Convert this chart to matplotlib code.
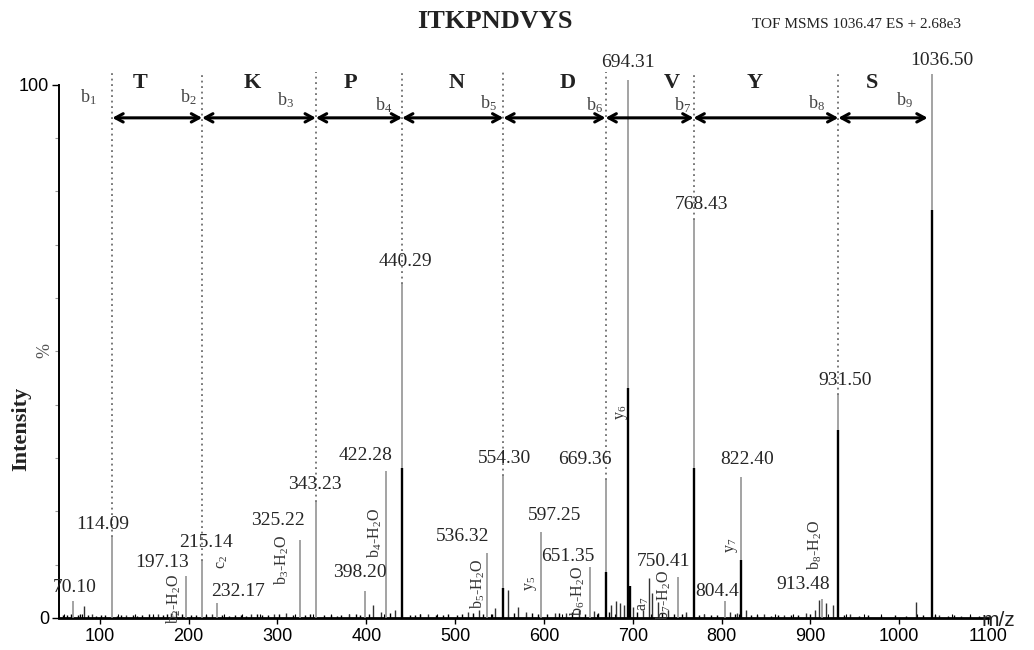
import matplotlib
matplotlib.use("Agg")
import matplotlib.pyplot as plt

plt.rcParams['font.family'] = ['Liberation Serif', 'DejaVu Serif']
plt.rcParams['mathtext.fontset'] = 'custom'
plt.rcParams['mathtext.rm'] = 'Liberation Serif'
plt.rcParams['mathtext.it'] = 'Liberation Serif:italic'
plt.rcParams['mathtext.bf'] = 'Liberation Serif:bold'

# ---------------- data ----------------
sequence = "ITKPNDVYS"
header = "TOF MSMS 1036.47 ES + 2.68e3"

# labelled peaks (m/z, relative intensity %)
peak_mz = [70.10, 114.09, 197.13, 215.14, 232.17, 325.22, 343.23, 398.20,
           422.28, 440.29, 536.32, 554.30, 597.25, 651.35, 669.36, 694.31,
           750.41, 768.43, 804.4, 822.40, 913.48, 931.50, 1036.50]
peak_int = [3.2, 15.2, 7.9, 10.7, 2.8, 14.6, 21.8, 5.1,
            27.6, 62.7, 12.2, 26.6, 16.1, 9.6, 25.9, 100.9,
            7.7, 74.7, 3.2, 26.5, 3.6, 41.8, 102.0]
peak_text = ["70.10", "114.09", "197.13", "215.14", "232.17", "325.22", "343.23",
             "398.20", "422.28", "440.29", "536.32", "554.30", "597.25", "651.35",
             "669.36", "694.31", "750.41", "768.43", "804.4", "822.40", "913.48",
             "931.50", "1036.50"]

# darker overlaid trace
dark_mz = [440.29, 554.30, 669.36, 694.31, 697.0, 768.43, 822.40, 931.50, 1036.50]
dark_int = [28.1, 5.6, 8.6, 43.2, 6.0, 28.1, 10.9, 35.3, 76.5]

# unlabelled minor peaks
minor_mz = [82, 91, 130, 165, 180, 186, 226, 270, 296, 310, 380, 408, 416, 432,
            470, 515, 527, 545, 560, 571, 580, 612, 625, 640, 656, 676, 681, 686,
            690, 700, 712, 718, 722, 728, 740, 760, 780, 810, 817, 828, 848, 870,
            895, 905, 910, 918, 925, 945, 1018.5, 1045, 1070]
minor_int = [2.3, 0.8, 0.6, 0.8, 1.0, 1.4, 0.8, 0.7, 0.8, 0.9, 0.7, 2.4, 1.2, 1.5,
             0.8, 1.2, 1.5, 1.8, 5.3, 2.0, 1.2, 0.9, 1.0, 1.5, 1.3, 2.5, 3.2, 2.8,
             2.4, 2.0, 1.5, 7.5, 4.7, 3.0, 1.5, 1.2, 0.8, 1.2, 1.0, 1.5, 0.8, 0.6,
             1.0, 1.5, 3.4, 2.8, 2.5, 0.7, 3.0, 0.5, 0.4]

# baseline noise
noise_mz = [58, 63, 67, 75, 78, 87, 96, 101, 106, 119, 124, 137, 142, 148, 155,
            160, 171, 176, 192, 203, 208, 220, 238, 245, 252, 259, 264, 277, 283,
            289, 302, 318, 331, 337, 352, 360, 367, 372, 388, 393, 403, 427, 449,
            455, 461, 478, 486, 492, 502, 508, 520, 531, 541, 566, 587, 593, 604,
            617, 632, 646, 661, 673, 705, 733, 746, 755, 775, 788, 795, 815, 833,
            840, 856, 863, 878, 886, 900, 938, 955, 965, 980, 995, 1008, 1027,
            1040, 1055, 1062, 1080, 1090]
noise_int = [0.6, 0.5, 0.7, 0.5, 0.8, 0.6, 0.4, 0.5, 0.6, 0.4, 0.5, 0.6, 0.4, 0.5,
             0.7, 0.4, 0.6, 0.8, 0.7, 0.5, 0.6, 0.5, 0.6, 0.4, 0.5, 0.6, 0.4, 0.7,
             0.5, 0.6, 0.8, 0.6, 0.5, 0.7, 0.6, 0.5, 0.4, 0.6, 0.7, 0.5, 0.8, 0.9,
             0.6, 0.5, 0.7, 0.6, 0.5, 0.8, 0.6, 0.7, 0.9, 0.8, 0.7, 1.0, 0.9, 0.8,
             0.7, 0.9, 1.1, 0.8, 1.0, 1.2, 1.1, 0.9, 0.8, 0.7, 0.6, 0.5, 0.6, 0.7,
             0.5, 0.6, 0.4, 0.5, 0.6, 0.5, 0.7, 0.6, 0.4, 0.5, 0.4, 0.5, 0.4, 0.6,
             0.5, 0.4, 0.5, 0.4, 0.3]

# b-ion ladder (residue boundaries) and residues
b_ions = [114.09, 215.14, 343.23, 440.29, 554.30, 669.36, 768.43, 931.50, 1032.0]
b_names = ["b$_1$", "b$_2$", "b$_3$", "b$_4$", "b$_5$", "b$_6$", "b$_7$", "b$_8$", "b$_9$"]
residues = ["T", "K", "P", "N", "D", "V", "Y", "S"]

# fragment annotations (rotated)
frag_text = ["b$_2$-H$_2$O", "c$_2$", "b$_3$-H$_2$O", "b$_4$-H$_2$O", "b$_5$-H$_2$O",
             "y$_5$", "b$_6$-H$_2$O", "y$_6$", "a$_7$", "b$_7$-H$_2$O", "y$_7$",
             "b$_8$-H$_2$O"]

# ---------------- layout ----------------
# label offsets from peak top (pixels: dx right, dy down)
lab_dx = [1, -10, -24, 4, 21, -22, -1, -5, -21, 3, -25, 1, 13, -22, -21, 0,
          -14, 8, -8, 6, -19, 7, 10]
lab_dy = [-13, -12, -13, -18, -12, -20, -17, -18, -15, -22, -16, -18, -17, -10,
          -20, -17, -15, -15, -9, -17, -14, -15, -14]
frag_x = [183.8, 237.8, 305.3, 409.9, 525.8, 585.4, 638.3, 687.8, 711.4, 735.0,
          811.5, 904.8]
frag_y = [3.6, 10.5, 10.9, 15.9, 6.4, 6.4, 5.0, 38.5, 2.6, 4.3, 13.7, 13.7]
res_x = [145.6, 271.5, 381.8, 502.1, 627.0, 744.0, 837.3, 969.0]
bname_x = [87.1, 199.5, 308.7, 420.0, 537.0, 657.4, 756.4, 907.1, 1006.1]
bname_y = [97.7, 97.7, 97.2, 96.2, 96.6, 96.2, 96.2, 96.6, 97.2]
arrow_y = 93.8
dotted_top = 102.4

W, H = 1034, 650
fig = plt.figure(figsize=(W / 100, H / 100), dpi=100)
ax = fig.add_axes([59 / W, 32 / H, 929 / W, 578 / H])
ax.set_xlim(54, 1100)
ax.set_ylim(0, 108.4)

# spectrum
ax.vlines(noise_mz, 0, noise_int, color='black', lw=1.0, zorder=2)
ax.vlines(minor_mz, 0, minor_int, color='#333333', lw=1.0, zorder=2)
ax.vlines(peak_mz, 0, peak_int, color='#8a8a8a', lw=1.1, zorder=3)
ax.vlines(dark_mz, 0, dark_int, color='black', lw=1.7, zorder=4)

# dotted b-ion guide lines
b_heights = [peak_int[peak_mz.index(b)] if b in peak_mz else 0 for b in b_ions[:-1]]
ax.vlines(b_ions[:-1], b_heights, dotted_top, color='#555555', lw=1.1,
          linestyles=(0, (1.2, 2.4)), zorder=1)

# arrows between b ions
for i in range(len(b_ions) - 1):
    ax.annotate('', xy=(b_ions[i + 1], arrow_y), xytext=(b_ions[i], arrow_y),
                arrowprops=dict(arrowstyle='<->,head_length=0.55,head_width=0.3',
                                lw=2.2, color='black', shrinkA=0, shrinkB=0),
                annotation_clip=False)

for x, r in zip(res_x, residues):
    ax.text(x, 100.4, r, ha='center', va='center', fontsize=16,
            fontweight='bold', color='#222222', clip_on=False)
for x, y, n in zip(bname_x, bname_y, b_names):
    ax.text(x, y, n, ha='center', va='center', fontsize=13, color='#444444',
            clip_on=False)

# peak labels
for mz, h, t, dx, dy in zip(peak_mz, peak_int, peak_text, lab_dx, lab_dy):
    ax.annotate(t, xy=(mz, h), xytext=(dx * 0.72, -dy * 0.72),
                textcoords='offset points', ha='center', va='center',
                fontsize=14, color='#262626', annotation_clip=False)

for x, y, t in zip(frag_x, frag_y, frag_text):
    ax.text(x, y, t, rotation=90, ha='center', va='center', fontsize=11.5,
            color='#333333', clip_on=False)

# axes styling
for s in ['top', 'right']:
    ax.spines[s].set_visible(False)
ax.spines['left'].set_bounds(0, 100)
ax.spines['left'].set_linewidth(1.4)
ax.spines['bottom'].set_linewidth(2.0)
ax.set_xticks(range(100, 1101, 100))
ax.set_xticks(range(60, 1100, 20), minor=True)
ax.set_yticks([0, 100])
ax.set_yticks(range(10, 100, 10), minor=True)
ax.tick_params(axis='x', which='major', direction='out', length=4, width=1,
               labelsize=13, pad=3)
ax.tick_params(axis='x', which='minor', direction='in', length=3, width=0.8)
ax.tick_params(axis='y', which='major', direction='out', length=5, width=1,
               labelsize=13, pad=2)
ax.tick_params(axis='y', which='minor', direction='out', length=3, width=0.8,
               color='#999999')
for lab in ax.get_xticklabels() + ax.get_yticklabels():
    lab.set_fontfamily(['Liberation Sans', 'DejaVu Sans'])

fig.text(495 / W, 1 - 22 / H, sequence, ha='center', va='center', fontsize=19,
         fontweight='bold', color='#222222')
fig.text(857 / W, 1 - 25 / H, header, ha='center', va='center', fontsize=11,
         color='#222222')
fig.text(21 / W, 1 - 429 / H, 'Intensity', rotation=90, ha='center', va='center',
         fontsize=16, fontweight='bold', color='#222222')
fig.text(45 / W, 1 - 351 / H, '%', rotation=90, ha='center', va='center',
         fontsize=13, color='#555555')
fig.text(982 / W, 1 - 620 / H, 'm/z', ha='left', va='center', fontsize=15,
         family=['Liberation Sans', 'DejaVu Sans'], color='#222222')

fig.savefig('out.png', dpi=100)
